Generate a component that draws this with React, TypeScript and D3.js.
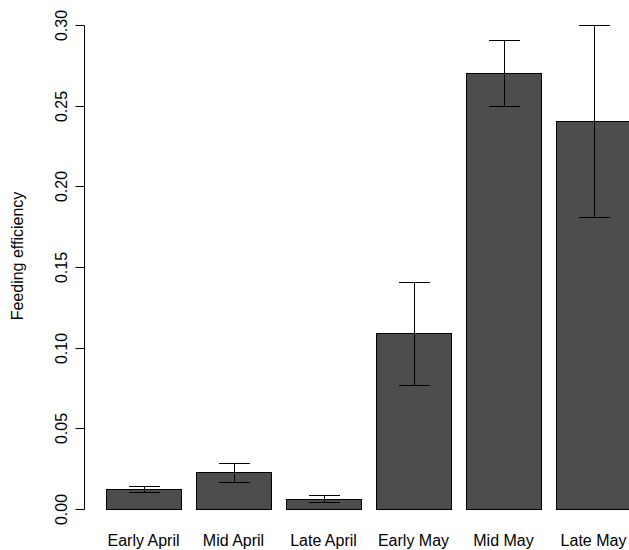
import React, { useEffect, useRef } from 'react';
import * as d3 from 'd3';

const categories = ['Early April', 'Mid April', 'Late April', 'Early May', 'Mid May', 'Late May'];
const means = [0.0125, 0.0227, 0.0065, 0.1089, 0.2702, 0.2403];
const lower = [0.0107, 0.0166, 0.0043, 0.0769, 0.2498, 0.1810];
const upper = [0.0144, 0.0285, 0.0089, 0.1410, 0.2905, 0.3000];
const yTicks = [0, 0.05, 0.1, 0.15, 0.2, 0.25, 0.3];

export default function App() {
    const ref = useRef<SVGSVGElement>(null);

    useEffect(() => {
        const width = 629;
        const height = 550;
        const font = '"Liberation Sans", Arial, sans-serif';
        const fontSize = 16;

        const svg = d3.select(ref.current);
        svg.selectAll('*').remove();

        // band step 90, bar 75 wide, first bar at x=106
        const x = d3.scaleBand<string>()
            .domain(categories)
            .range([91, 646])
            .paddingInner(1 / 6)
            .paddingOuter(1 / 6);
        const y = d3.scaleLinear().domain([0, 0.3]).range([509, 25]);

        const data = categories.map((c, i) => ({ c, m: means[i], lo: lower[i], hi: upper[i] }));

        // bars
        svg.append('g')
            .selectAll('rect')
            .data(data)
            .join('rect')
            .attr('x', d => Math.round(x(d.c)!) + 0.5)
            .attr('y', d => Math.round(y(d.m)) + 0.5)
            .attr('width', x.bandwidth())
            .attr('height', d => Math.round(y(0)) - Math.round(y(d.m)))
            .attr('fill', '#4d4d4d')
            .attr('stroke', '#000')
            .attr('stroke-width', 1);

        // error bars
        const cap = 15.5;
        const eb = svg.append('g').attr('stroke', '#000').attr('stroke-width', 1);
        data.forEach(d => {
            const cx = Math.round(x(d.c)! + x.bandwidth() / 2) + 0.5;
            const y1 = Math.round(y(d.hi)) + 0.5;
            const y2 = Math.round(y(d.lo)) + 0.5;
            eb.append('line').attr('x1', cx).attr('x2', cx).attr('y1', y1).attr('y2', y2);
            eb.append('line').attr('x1', cx - cap).attr('x2', cx + cap).attr('y1', y1).attr('y2', y1);
            eb.append('line').attr('x1', cx - cap).attr('x2', cx + cap).attr('y1', y2).attr('y2', y2);
        });

        // y axis
        const axisX = 84.5;
        const ax = svg.append('g');
        ax.append('line')
            .attr('x1', axisX).attr('x2', axisX)
            .attr('y1', Math.round(y(0.3)) + 0.5).attr('y2', Math.round(y(0)) + 0.5)
            .attr('stroke', '#000');
        yTicks.forEach(t => {
            const ty = Math.round(y(t)) + 0.5;
            ax.append('line')
                .attr('x1', axisX - 9).attr('x2', axisX)
                .attr('y1', ty).attr('y2', ty)
                .attr('stroke', '#000');
            ax.append('text')
                .attr('transform', `translate(67,${ty}) rotate(-90)`)
                .attr('text-anchor', 'middle')
                .attr('font-family', font)
                .attr('font-size', fontSize)
                .attr('fill', '#000')
                .text(d3.format('.2f')(t));
        });

        // category labels
        svg.append('g')
            .selectAll('text')
            .data(categories)
            .join('text')
            .attr('x', d => x(d)! + x.bandwidth() / 2)
            .attr('y', 546)
            .attr('text-anchor', 'middle')
            .attr('font-family', font)
            .attr('font-size', fontSize)
            .attr('fill', '#000')
            .text(d => d);

        // y label
        svg.append('text')
            .attr('transform', 'translate(23,256) rotate(-90)')
            .attr('text-anchor', 'middle')
            .attr('font-family', font)
            .attr('font-size', fontSize)
            .attr('fill', '#000')
            .text('Feeding efficiency');

        svg.attr('width', width).attr('height', height);
    }, []);

    return (
        <div style={{ position: 'absolute', left: 0, top: 0 }}>
            <svg ref={ref} width={629} height={550} style={{ display: 'block', background: '#fff' }} />
        </div>
    );
}
